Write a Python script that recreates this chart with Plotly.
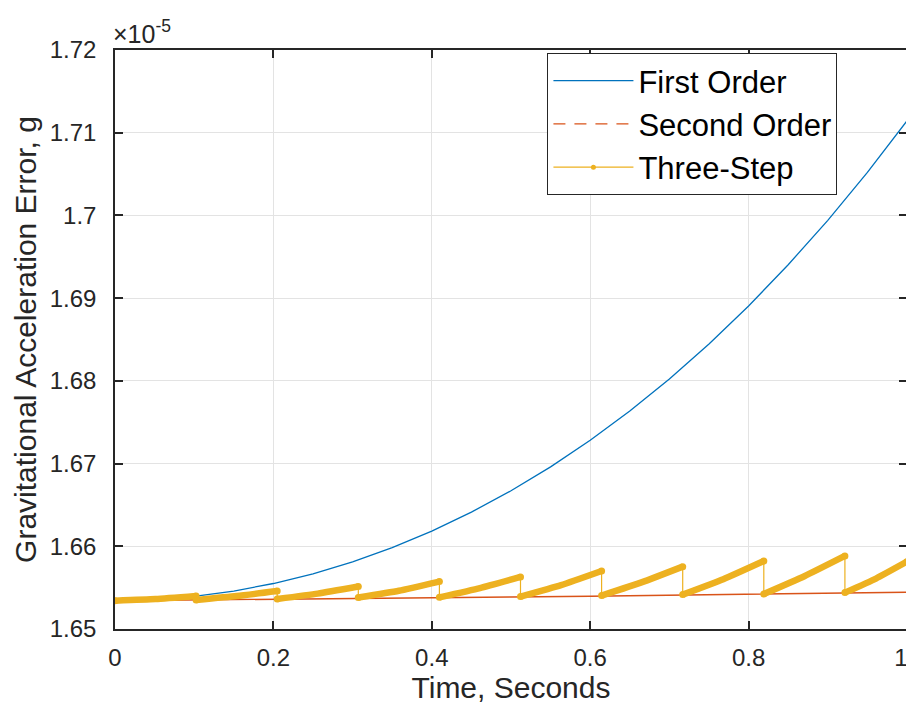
import plotly.graph_objects as go

# ---- data (values in units of 1e-5 g) ----
first_t = [0.0, 0.05, 0.1, 0.15, 0.2, 0.25, 0.3, 0.35, 0.4, 0.45, 0.5,
           0.55, 0.6, 0.65, 0.7, 0.75, 0.8, 0.85, 0.9, 0.95, 1.0]
first_v = [1.65343, 1.65356, 1.65395, 1.65459, 1.65550, 1.65667, 1.65812, 1.65984, 1.66184,
           1.66413, 1.66671, 1.66960, 1.67281, 1.67635, 1.68023, 1.68446, 1.68905, 1.69404,
           1.69941, 1.70520, 1.71143]

second_t = [0.0, 0.1, 0.2, 0.3, 0.4, 0.5, 0.6, 0.7, 0.8, 0.9, 1.0]
second_v = [1.65343, 1.65350, 1.65358, 1.65367, 1.65376, 1.65386, 1.65397, 1.65408, 1.65420, 1.65432, 1.65444]

# three-step: segment start times, end times, start / mid / end values
seg_t0 = [0.0, 0.1024, 0.2048, 0.3072, 0.4096, 0.512, 0.6144, 0.7168, 0.8192, 0.9216]
seg_t1 = [0.1024, 0.2048, 0.3072, 0.4096, 0.512, 0.6144, 0.7168, 0.8192, 0.9216, 1.0]
seg_v0 = [1.65343, 1.65351, 1.65363, 1.65380, 1.65383, 1.65392, 1.65404, 1.65416, 1.65423, 1.65440]
seg_vm = [1.65362, 1.65398, 1.65428, 1.65462, 1.65495, 1.65530, 1.65566, 1.65602, 1.65638, 1.65610]
seg_v1 = [1.65399, 1.65459, 1.65513, 1.65573, 1.65629, 1.65701, 1.65754, 1.65822, 1.65883, 1.65815]

y_ticks = [1.65, 1.66, 1.67, 1.68, 1.69, 1.70, 1.71, 1.72]
y_tick_text = ["1.65", "1.66", "1.67", "1.68", "1.69", "1.7", "1.71", "1.72"]
x_ticks = [0, 0.2, 0.4, 0.6, 0.8, 1.0]
x_tick_text = ["0", "0.2", "0.4", "0.6", "0.8", "1\u2002"]

BLUE = "#0072BD"
RED = "#D95319"
YEL = "#EDB120"
INK = "#262626"
FONT = "Liberation Sans, Arial, sans-serif"

# build three-step paths
thick_x, thick_y, thin_x, thin_y, end_x, end_y = [], [], [], [], [], []
for a, b, v0, vm, v1 in zip(seg_t0, seg_t1, seg_v0, seg_vm, seg_v1):
    xs = [a, (a + b) / 2, b]
    ys = [v0, vm, v1]
    thick_x += xs + [None]
    thick_y += ys + [None]
    thin_x += xs
    thin_y += ys
    end_x += [a, b]
    end_y += [v0, v1]

fig = go.Figure()
fig.add_trace(go.Scatter(x=first_t, y=first_v, mode="lines", name="First Order",
                         line=dict(color=BLUE, width=1.3)))
fig.add_trace(go.Scatter(x=second_t, y=second_v, mode="lines", showlegend=False,
                         line=dict(color=RED, width=1.5)))
fig.add_trace(go.Scatter(x=[None], y=[None], mode="lines", name="Second Order",
                         line=dict(color=RED, width=1.3, dash="12px,9px")))
fig.add_trace(go.Scatter(x=thin_x, y=thin_y, mode="lines", showlegend=False,
                         line=dict(color=YEL, width=1.2)))
fig.add_trace(go.Scatter(x=thick_x, y=thick_y, mode="lines", showlegend=False,
                         line=dict(color=YEL, width=6.5, shape="spline", smoothing=0.5)))
fig.add_trace(go.Scatter(x=end_x, y=end_y, mode="markers", showlegend=False,
                         marker=dict(color=YEL, size=7)))
fig.add_trace(go.Scatter(x=[None], y=[None], mode="lines+markers", name="Three-Step",
                         line=dict(color=YEL, width=1.3), marker=dict(color=YEL, size=5)))

axis_common = dict(showline=True, linecolor=INK, linewidth=1.5, mirror="ticks",
                   ticks="inside", ticklen=8, tickwidth=1.5, tickcolor=INK,
                   showgrid=True, gridcolor="#e3e3e3", gridwidth=1, zeroline=False,
                   ticklabeloverflow="allow",
                   tickfont=dict(family=FONT, size=24, color=INK))

fig.update_layout(
    width=914, height=704,
    margin=dict(l=107, r=2, t=42, b=83),
    paper_bgcolor="white", plot_bgcolor="white",
    font=dict(family=FONT, color=INK),
    xaxis=dict(range=[0, 1], tickvals=x_ticks, ticktext=x_tick_text, ticklabelstandoff=6,
               title=dict(text="Time, Seconds", font=dict(family=FONT, size=30, color=INK), standoff=4),
               **axis_common),
    yaxis=dict(range=[1.65, 1.72], tickvals=y_ticks, ticktext=y_tick_text, ticklabelstandoff=12,
               title=dict(text="Gravitational Acceleration Error, g", font=dict(family=FONT, size=30, color=INK), standoff=4),
               **axis_common),
    legend=dict(x=0.546, y=0.995, xanchor="left", yanchor="top",
                bgcolor="white", bordercolor=INK, borderwidth=1,
                font=dict(family=FONT, size=31, color="black"),
                itemwidth=80, tracegroupgap=0),
    showlegend=True,
    annotations=[
        dict(xref="paper", yref="paper", x=0.0, y=1.0, xanchor="left", yanchor="bottom",
             text="×10<sup>-5</sup>", showarrow=False, xshift=-4,
             font=dict(family=FONT, size=25, color=INK)),
    ],
)

fig.write_html("out.html")
